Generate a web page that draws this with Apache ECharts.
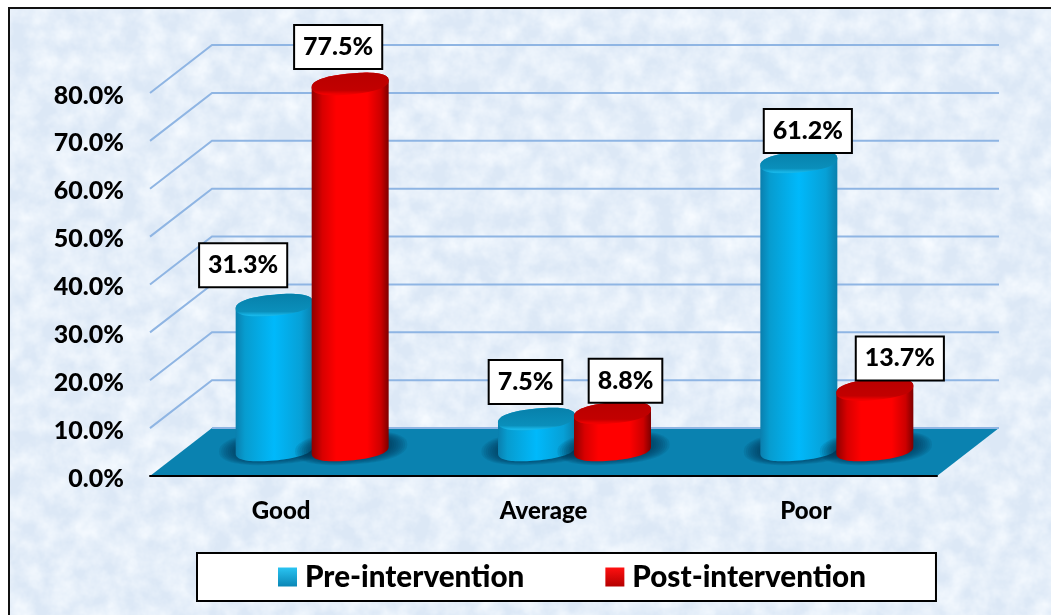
<!DOCTYPE html>
<html>
<head>
<meta charset="utf-8">
<title>Pre and post intervention</title>
<script src="https://cdn.jsdelivr.net/npm/echarts@6/dist/echarts.min.js"></script>
<style>
  html, body { margin: 0; padding: 0; background: #fff; }
  #backdrop {
    position: absolute; left: 8px; top: 7px; width: 1043px; height: 608px;
    border-left: 2px solid #111; border-top: 2px solid #111; box-sizing: border-box;
    background-color: #dce8f6;
    background-image: url("data:image/svg+xml;utf8,<svg xmlns='http://www.w3.org/2000/svg' width='1043' height='608'><filter id='n'><feTurbulence type='fractalNoise' baseFrequency='0.045' numOctaves='4' seed='11'/><feColorMatrix values='0 0 0 0 0.92 0 0 0 0 0.96 0 0 0 0 1 0 0 0 1.6 -0.45'/></filter><rect width='1043' height='608' filter='url(%23n)'/></svg>");
  }
  #main { position: absolute; left: 0; top: 0; width: 1051px; height: 615px; }
</style>
</head>
<body>
<div id="backdrop"></div>
<div id="main"></div>
<script>
const categories = ["Good", "Average", "Poor"];
const preValues = [31.3, 7.5, 61.2];
const postValues = [77.5, 8.8, 13.7];
const yTicks = [0, 10, 20, 30, 40, 50, 60, 70, 80];

const FONT = "Lato, Carlito, sans-serif";
const WEIGHT = 900;
const DEPTH_X = 62;
const DEPTH_Y = 48;
const RX = 38.5;    // cylinder radius
const RY = 10.5;
const TILT = 3.5;   // ellipses lean up to the right
const ROUND = 0.85; // below 1 makes the ends fuller, like the office 3D cylinder

// where each value box sits relative to its cylinder top, nudged by hand like the original
const preLabelDx = [-31, -11, 9];
const preLabelDy = [-40, -37, -31];
const postLabelDx = [-12, 13, 25];
const postLabelDy = [-37, -32, -31];

function ellipsePts(cx, cy, from, to, rx, ry, tilt) {
  const pts = [];
  const steps = 48;
  for (let i = 0; i <= steps; i++) {
    const t = from + (to - from) * i / steps;
    const c = Math.cos(t);
    const s = Math.sin(t);
    const ex = Math.sign(c) * Math.pow(Math.abs(c), ROUND);
    const ey = Math.sign(s) * Math.pow(Math.abs(s), ROUND);
    pts.push([cx + rx * ex, cy + ry * ey - tilt * ex]);
  }
  return pts;
}

function hGrad(stops) {
  return new echarts.graphic.LinearGradient(0, 0, 1, 0, stops.map((s) => ({ offset: s[0], color: s[1] })));
}
function vGrad(stops) {
  return new echarts.graphic.LinearGradient(0, 0, 0, 1, stops.map((s) => ({ offset: s[0], color: s[1] })));
}

const bluePaint = {
  body: hGrad([[0, "#0a7fae"], [0.12, "#079ccf"], [0.5, "#00b9fb"], [0.85, "#07a0d6"], [1, "#0a80ad"]]),
  top: vGrad([[0, "#0780aa"], [0.78, "#0a8fbb"], [0.95, "#18b8ea"], [1, "#10aee0"]]),
};
const redPaint = {
  body: hGrad([[0, "#8f0000"], [0.14, "#d80000"], [0.32, "#ff0000"], [0.72, "#ff0000"], [0.9, "#cc0000"], [1, "#7d0000"]]),
  top: vGrad([[0, "#b80000"], [0.78, "#c20000"], [0.95, "#f20000"], [1, "#ee0000"]]),
};

function cylinderRenderer(side, paint, labelDx, labelDy) {
  return function (params, api) {
    const idx = params.dataIndex;
    const v = api.value(1);
    const band = api.coord([idx, 0]);
    const cx = band[0] + 31 + side * 38;
    const baseY = band[1] - 26;
    const topY = api.coord([idx, v])[1] - 21;
    const body = ellipsePts(cx, baseY, 0, Math.PI, RX, RY, TILT)
      .concat(ellipsePts(cx, topY, Math.PI, 2 * Math.PI, RX, RY, TILT));
    // soft floor shadow, stacked rings because a canvas blur hides behind the body
    const shadow = [];
    for (let k = 8; k >= 1; k--) {
      shadow.push({
        type: "polygon",
        shape: { points: ellipsePts(cx + 1, baseY - 2, 0, 2 * Math.PI, RX + k * 2.2, RY + k * 0.75, TILT) },
        style: { fill: "rgba(0,45,75,0.11)" },
        silent: true,
      });
    }
    return {
      type: "group",
      children: shadow.concat([
        { type: "polygon", shape: { points: body }, style: { fill: paint.body } },
        { type: "polygon", shape: { points: ellipsePts(cx, topY, 0, 2 * Math.PI, RX, RY, TILT) }, style: { fill: paint.top } },
        {
          type: "text",
          x: cx + labelDx[idx],
          y: topY + labelDy[idx],
          style: {
            text: v.toFixed(1) + "%",
            font: WEIGHT + " 25px " + FONT,
            fill: "#000",
            align: "center",
            verticalAlign: "middle",
            backgroundColor: "#fff",
            borderColor: "#000",
            borderWidth: 2,
            padding: [10, 8, 7, 8],
          },
          z2: 50,
        },
      ]),
    };
  };
}

const chart = echarts.init(document.getElementById("main"), null, { renderer: "canvas" });

chart.setOption({
  animation: false,
  backgroundColor: "transparent",
  textStyle: { fontFamily: FONT },
  grid: { left: 150, right: 114, top: 93, bottom: 139, containLabel: false },
  legend: {
    left: 197,
    top: 553,
    padding: [9, 70, 9, 81],
    backgroundColor: "#fff",
    borderColor: "#000",
    borderWidth: 2,
    itemWidth: 19,
    itemHeight: 19,
    itemGap: 81,
    icon: "rect",
    selectedMode: false,
    textStyle: { fontFamily: FONT, fontWeight: WEIGHT, fontSize: 29.6, color: "#000", padding: [0, 0, 0, 3] },
    data: [
      { name: "Pre-intervention", itemStyle: { color: vGrad([[0, "#2ac4f2"], [1, "#0a86b5"]]) } },
      { name: "Post-intervention", itemStyle: { color: vGrad([[0, "#ff1010"], [1, "#b40000"]]) } },
    ],
  },
  xAxis: {
    type: "category",
    data: categories,
    axisTick: { show: false },
    axisLine: { show: true, lineStyle: { color: "#000", width: 2 } },
    axisLabel: { margin: 23, fontFamily: FONT, fontWeight: WEIGHT, fontSize: 24, color: "#000" },
    z: 5,
  },
  yAxis: {
    type: "value",
    min: 0,
    max: 80,
    interval: 10,
    axisLine: { show: false },
    axisTick: { show: false },
    splitLine: { show: false },
    axisLabel: {
      margin: 26,
      color: "#000",
      formatter: (val) => "{tick|" + val.toFixed(1) + "%}",
      rich: {
        tick: { fontFamily: FONT, fontWeight: WEIGHT, fontSize: 25, color: "#000", padding: [5, 0, 0, 0] },
      },
    },
  },
  series: [
    {
      // floor of the 3D box
      name: "floor",
      type: "custom",
      clip: false,
      silent: true,
      z: 1,
      data: [[0, 0]],
      renderItem(params, api) {
        const sys = params.coordSys;
        const y0 = api.coord([0, 0])[1];
        return {
          type: "polygon",
          shape: {
            points: [
              [sys.x, y0],
              [sys.x + sys.width, y0],
              [sys.x + sys.width + DEPTH_X, y0 - DEPTH_Y],
              [sys.x + DEPTH_X, y0 - DEPTH_Y],
            ],
          },
          style: { fill: "#0a82b0" },
        };
      },
    },
    {
      // side and back wall grid lines
      name: "walls",
      type: "custom",
      clip: false,
      silent: true,
      z: 2,
      data: yTicks.map((t) => [0, t]),
      renderItem(params, api) {
        const sys = params.coordSys;
        const y = api.coord([0, api.value(1)])[1];
        return {
          type: "polyline",
          shape: {
            points: api.value(1) === 0
              ? [[sys.x + DEPTH_X, y - DEPTH_Y], [sys.x + sys.width + DEPTH_X, y - DEPTH_Y]]
              : [[sys.x, y], [sys.x + DEPTH_X, y - DEPTH_Y], [sys.x + sys.width + DEPTH_X, y - DEPTH_Y]],
          },
          style: { stroke: "#8fb5e3", lineWidth: 2, fill: null },
        };
      },
    },
    {
      name: "Pre-intervention",
      type: "custom",
      clip: false,
      z: 3,
      data: preValues.map((v, i) => [i, v]),
      renderItem: cylinderRenderer(-1, bluePaint, preLabelDx, preLabelDy),
    },
    {
      name: "Post-intervention",
      type: "custom",
      clip: false,
      z: 4,
      data: postValues.map((v, i) => [i, v]),
      renderItem: cylinderRenderer(1, redPaint, postLabelDx, postLabelDy),
    },
  ],
});

window.addEventListener("resize", () => chart.resize());
</script>
</body>
</html>
